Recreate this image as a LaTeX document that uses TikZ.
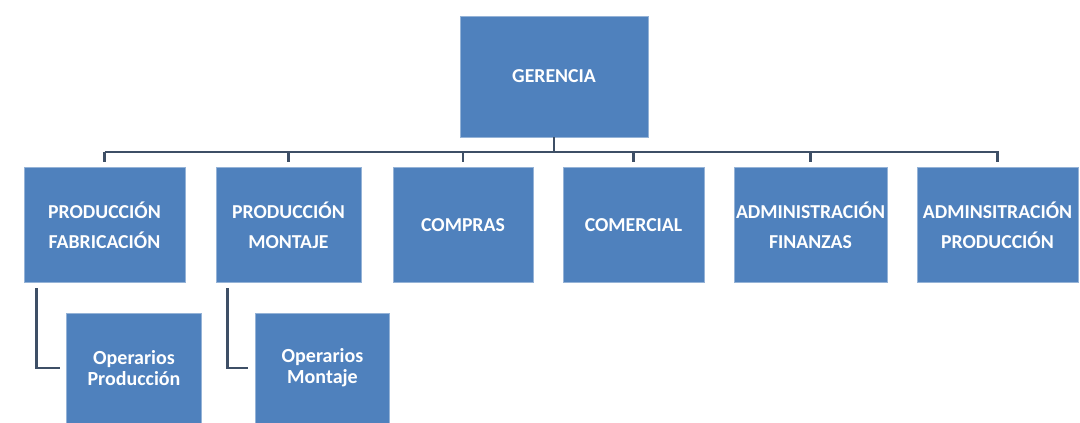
\documentclass[tikz,border=0pt]{standalone}
\usepackage{fontspec}
\setmainfont{Carlito}
\definecolor{boxblue}{HTML}{4F81BD}
\definecolor{linkgray}{HTML}{3E4F66}
\tikzset{
  unitbox/.style={fill=boxblue, draw=boxblue!60!white, line width=0.6pt, text=white, inner sep=0pt, align=center,
    font=\fontsize{14.8}{22.5}\selectfont\bfseries},
  rowbox/.style={unitbox, minimum height=86.25pt},
  subbox/.style={unitbox, minimum height=82.5pt, minimum width=101pt,
    font=\fontsize{15}{15.5}\selectfont\bfseries},
  link/.style={linkgray, line width=2.2pt}
}
\begin{document}
\begin{tikzpicture}[x=0.75pt, y=-0.75pt]
        \useasboundingbox (0,0) rectangle (1080,423);
        \node[unitbox, minimum width=141pt, minimum height=90.75pt] (ger) at (554,76.5) {GERENCIA};
        \node[rowbox, minimum width=120.75pt] (pf) at (104.5,225) {PRODUCCIÓN\\FABRICACIÓN};
        \node[rowbox, minimum width=108.75pt] (pm) at (288.5,225) {PRODUCCIÓN\\MONTAJE};
        \node[rowbox, minimum width=105pt] (com) at (463,225) {COMPRAS};
        \node[rowbox, minimum width=105.75pt] (cml) at (633.5,225) {COMERCIAL};
        \node[rowbox, minimum width=114.75pt] (af) at (810.5,225) {ADMINISTRACIÓN\\FINANZAS};
        \node[rowbox, minimum width=120.75pt] (ap) at (997.5,225) {ADMINSITRACIÓN\\PRODUCCIÓN};
        \node[subbox] (op) at (134,368) {Operarios\\Producción};
        \node[subbox] (om) at (322.5,368) {Operarios\\Montaje};
        \coordinate (bus) at (554,152);
        \draw[link] (ger.south) -- (bus);
        \draw[link, shorten >=3.75pt] (pf.north |- bus) -- (ap.north |- bus) -- (ap.north);
        \draw[link, shorten >=3.75pt] (pf.north |- bus) -- (pf.north);
        \foreach \n in {pm,com,cml,af}
          \draw[link, shorten >=3.75pt] (\n.north |- bus) -- (\n.north);
        \draw[link, shorten <=4pt, shorten >=5pt] ([xshift=9.75pt]pf.south west) |- (op.west);
        \draw[link, shorten <=4pt, shorten >=5pt] ([xshift=9pt]pm.south west) |- (om.west);
        \end{tikzpicture}
\end{document}
